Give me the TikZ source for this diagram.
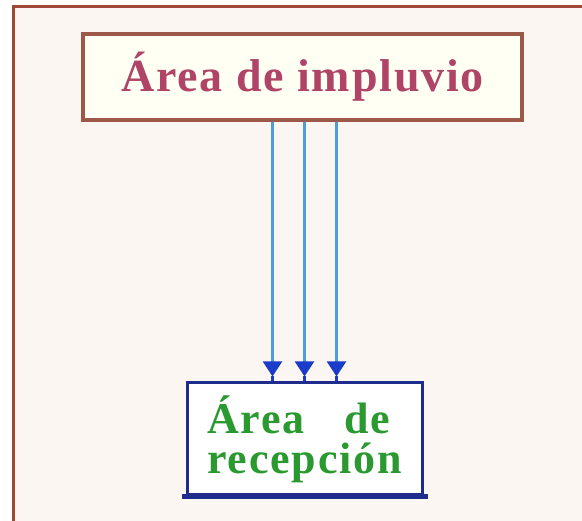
\documentclass[tikz,border=0pt]{standalone}
\usepackage{fontspec}
\setmainfont{Liberation Serif}
\usetikzlibrary{arrows.meta}
\definecolor{bgpale}{HTML}{FCF6F3}
\definecolor{framered}{HTML}{A04838}
\definecolor{topborder}{HTML}{9C5848}
\definecolor{topfill}{HTML}{FFFFF4}
\definecolor{toptext}{HTML}{B04466}
\definecolor{lowborder}{HTML}{1E2C8E}
\definecolor{lowtext}{HTML}{2A9A30}
\definecolor{linkblue}{HTML}{4AA0D8}
\definecolor{headblue}{HTML}{1A3CC8}
\newfontfamily\boxfont[LetterSpace=4]{Liberation Serif}
\tikzset{
  topbox/.style={draw=topborder, line width=3.5pt, fill=topfill, minimum width=439pt, minimum height=86pt, inner sep=0pt, text=toptext, font=\boxfont\bfseries\fontsize{46}{52}\selectfont},
  lowbox/.style={draw=lowborder, line width=3pt, fill=white, minimum width=235pt, minimum height=112pt, inner sep=0pt, text=lowtext, font=\boxfont\bfseries\fontsize{44}{40}\selectfont, align=left},
  link/.style={draw=linkblue, line width=2.2pt, -{Triangle[length=15pt,width=19pt,fill=headblue,color=headblue]}},
  stem/.style={draw=headblue, line width=2.4pt},
  baseline bar/.style={draw=lowborder, line width=5pt}
}
\begin{document}
\begin{tikzpicture}[x=1pt,y=-1pt]
\useasboundingbox (0,0) rectangle (582,521);
\fill[white] (0,0) rectangle (582,521);
\fill[bgpale] (13,7) rectangle (582,521);
\draw[framered, line width=3pt] (13,521) -- (13,7) -- (582,7);
\node[topbox] (imp) at (302.5,77) {Área de impluvio};
\node[lowbox] (rec) at (304.5,439) {Área\hspace{40pt}de\\recepción};
\draw[baseline bar] ([xshift=-4pt]rec.south west) -- ([xshift=4pt]rec.south east);
\path (rec.north) ++(-32,-5) coordinate (t1) ++(32,0) coordinate (t2) ++(32,0) coordinate (t3);
\draw[link] (t1 |- imp.south) -- (t1);
\draw[link] (t2 |- imp.south) -- (t2);
\draw[link] (t3 |- imp.south) -- (t3);
\draw[stem] (t1) -- (t1 |- rec.north);
\draw[stem] (t2) -- (t2 |- rec.north);
\draw[stem] (t3) -- (t3 |- rec.north);
\end{tikzpicture}
\end{document}
